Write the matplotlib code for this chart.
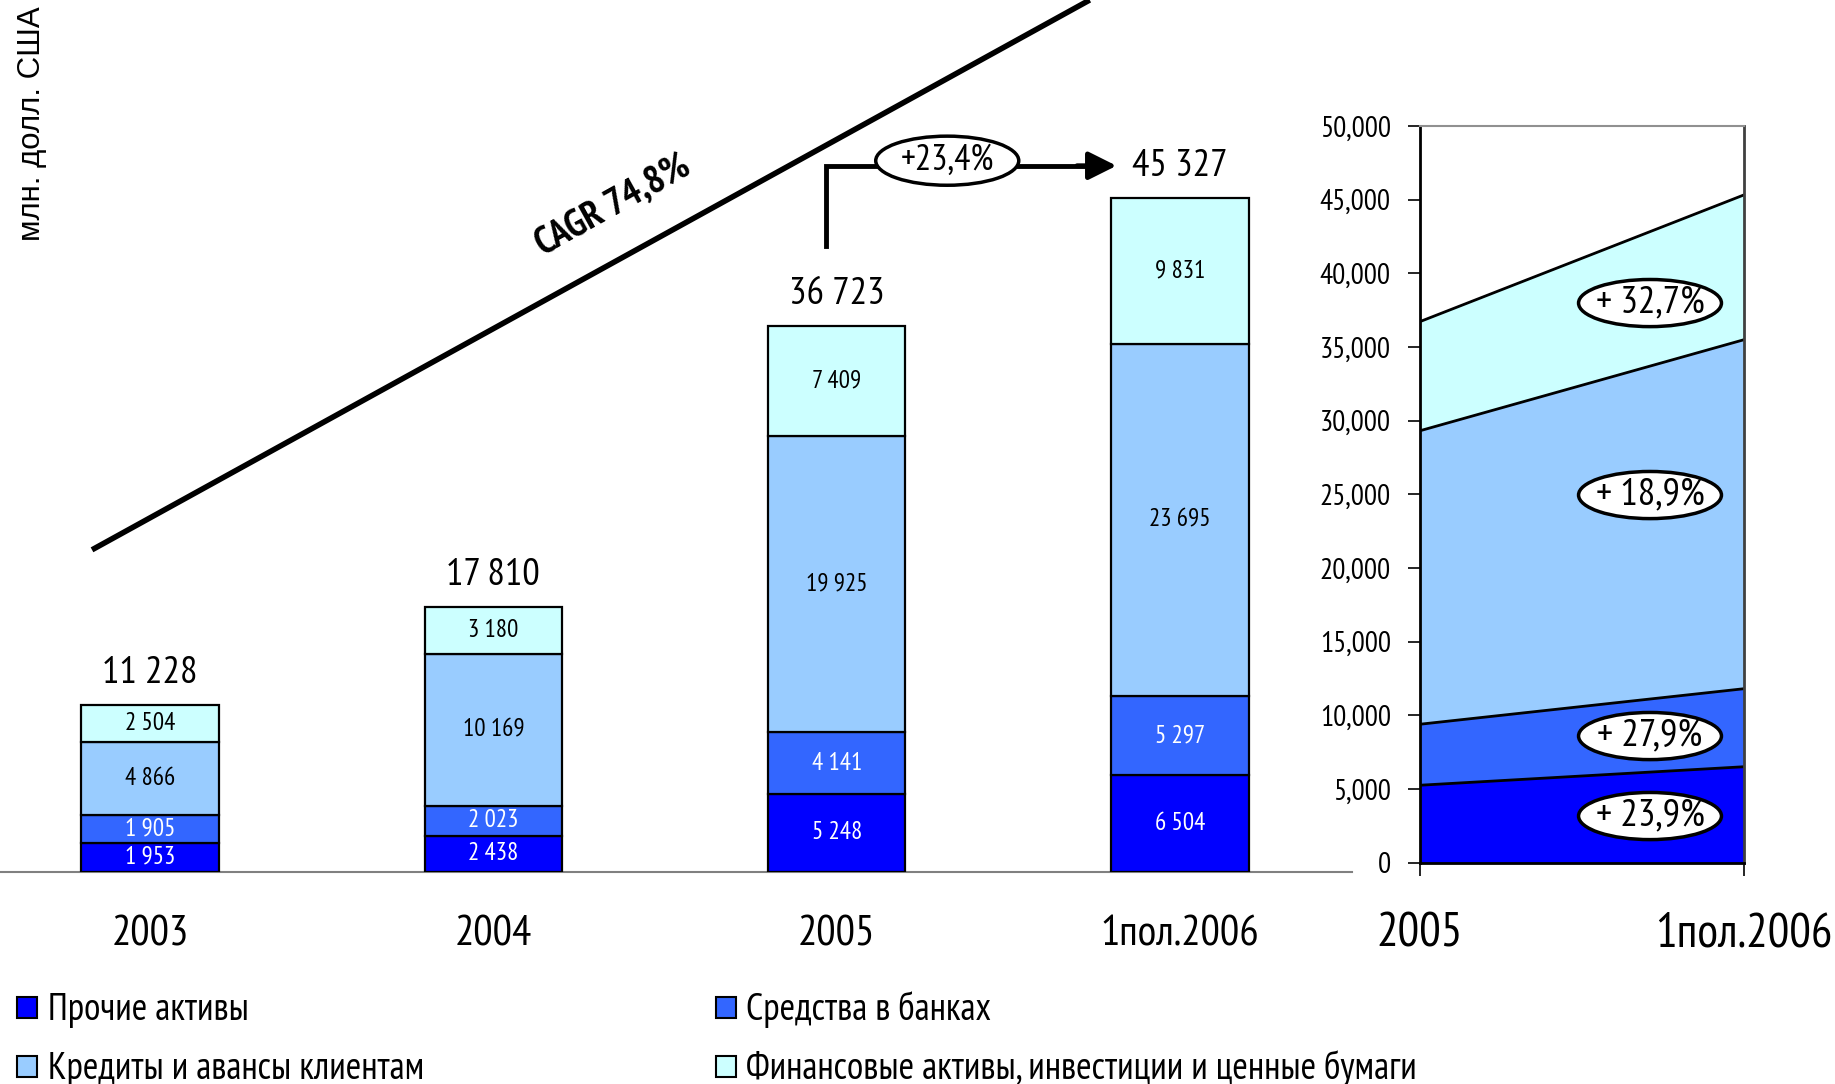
import numpy as np
import matplotlib
matplotlib.use('Agg')
import matplotlib.pyplot as plt
from matplotlib import font_manager
from matplotlib.patches import Ellipse

# narrow face similar to Arial Narrow, first one that is installed as a static file
def pick_family(cands):
    for name in cands:
        for f in font_manager.fontManager.ttflist:
            if f.name == name and f.style == 'normal' and '[' not in f.fname:
                return name
    return 'Liberation Sans'

NARROW = pick_family(['Arial Narrow', 'Liberation Sans Narrow', 'PT Sans Narrow',
                      'Roboto Condensed', 'Asap Condensed'])
plt.rcParams['font.family'] = [NARROW, 'Liberation Sans', 'DejaVu Sans']

############################################################################
#                    Data                                                  #
############################################################################
years = ['2003', '2004', '2005', '1пол.2006']
series_names = ['Прочие активы', 'Средства в банках',
                'Кредиты и авансы клиентам',
                'Финансовые активы, инвестиции и ценные бумаги']
other_assets = [1953, 2438, 5248, 6504]
bank_funds = [1905, 2023, 4141, 5297]
loans = [4866, 10169, 19925, 23695]
fin_assets = [2504, 3180, 7409, 9831]
totals = [11228, 17810, 36723, 45327]
area_years = ['2005', '1пол.2006']
growth_labels = ['+ 23,9%', '+ 27,9%', '+ 18,9%', '+ 32,7%']
cagr_text = 'CAGR 74,8%'
half_growth = '+23,4%'
colors = ['#0000FF', '#3366FF', '#99CCFF', '#CCFFFF']
txt_colors = ['white', 'white', 'black', 'black']

def fmt(v):
    return '{:,}'.format(v).replace(',', ' ')

fig = plt.figure(figsize=(18.35, 10.84), dpi=100)

# -------- main stacked bars --------
ax = fig.add_axes((0.0, 0.1956, 0.7368, 0.8044))
x = np.arange(len(years))
stack = [other_assets, bank_funds, loans, fin_assets]
bottom = np.zeros(len(years))
for vals, c, tc in zip(stack, colors, txt_colors):
    ax.bar(x, vals, 0.40, bottom=bottom, color=c, edgecolor='black', linewidth=1.6, zorder=3)
    for xi, b, v in zip(x, bottom, vals):
        ax.text(xi, b + v / 2, fmt(v), ha='center', va='center', fontsize=18, color=tc, zorder=4)
    bottom = bottom + np.array(vals)

for xi, t in zip(x, totals):
    ax.annotate(fmt(t), (xi, t), xytext=(0, 10), textcoords='offset points',
                ha='center', va='bottom', fontsize=28)

ax.set_xlim(-0.437, 3.501)
ax.set_ylim(0, 58600)
for s in ['top', 'right', 'left']:
    ax.spines[s].set_visible(False)
ax.spines['bottom'].set_color('#808080')
ax.spines['bottom'].set_linewidth(1.5)
ax.set_yticks([])
ax.set_xticks(x)
ax.set_xticklabels(years, fontsize=31)
ax.tick_params(axis='x', length=0, pad=31)

# CAGR trend line
ax.plot([-0.169, 2.737], [21650, 58600], color='black', lw=4, solid_capstyle='butt', clip_on=False)
ax.text(1.35, 44750, cagr_text, rotation=29, fontsize=27.5, fontweight='bold', style='italic',
        ha='center', va='center', rotation_mode='anchor')

# +23,4% connector
ax.plot([1.969, 1.969, 2.74], [42080, 47460, 47460], color='black', lw=3.5, solid_joinstyle='miter')
ax.annotate('', xy=(2.815, 47460), xytext=(2.70, 47460),
            arrowprops=dict(arrowstyle='-|>,head_length=1.7,head_width=0.85', color='black', lw=3.5,
                            shrinkA=0, shrinkB=0))
ax.add_patch(Ellipse((2.322, 47800), 0.4166, 3300, fc='white', ec='black', lw=2.5, zorder=5))
ax.text(2.322, 47800, half_growth, ha='center', va='center', fontsize=26, zorder=6)

fig.text(0.0175, 0.994, 'млн. долл. США', rotation=90, fontsize=22.5,
         family=['Liberation Sans', 'DejaVu Sans'], ha='center', va='top')

# -------- right area chart --------
ax2 = fig.add_axes((0.7738, 0.2043, 0.1766, 0.6794))
xa = [0, 1]
cum = np.zeros(2)
for s, c in zip(stack, colors):
    vals = np.array(s[2:])
    ax2.fill_between(xa, cum, cum + vals, color=c, lw=0)
    cum = cum + vals
    ax2.plot(xa, cum, color='black', lw=2)

ax2.set_xlim(0, 1)
ax2.set_ylim(0, 50000)
yt = np.arange(0, 50001, 5000)
ax2.set_yticks(yt)
ax2.set_yticklabels(['{:,}'.format(v) for v in yt], fontsize=21)
ax2.set_xticks(xa)
ax2.set_xticklabels(area_years, fontsize=34.5)
ax2.tick_params(axis='y', length=9, width=1.2, pad=12)
ax2.tick_params(axis='x', length=9, width=1.2, direction='out', pad=27)
ax2.spines['left'].set_linewidth(2)
ax2.spines['bottom'].set_linewidth(2)
ax2.spines['top'].set_color('#909090')
ax2.spines['top'].set_linewidth(1.5)
ax2.spines['right'].set_color('#404040')
ax2.spines['right'].set_linewidth(2)

label_y = [3157, 8588, 24950, 37984]
for lab, ly in zip(growth_labels, label_y):
    ax2.add_patch(Ellipse((0.71, ly), 0.441, 3200, fc='white', ec='black', lw=2.5, zorder=5))
    ax2.text(0.71, ly - 80, lab, ha='center', va='center', fontsize=28, zorder=6)

# -------- legend --------
leg_pos = [(0.0095, 0.061), (0.390, 0.061), (0.0095, 0.0065), (0.390, 0.0065)]
for (lx, ly), c, name in zip(leg_pos, colors, series_names):
    fig.patches.append(plt.Rectangle((lx, ly), 0.0109, 0.0194, transform=fig.transFigure,
                                     facecolor=c, edgecolor='black', lw=1.5, figure=fig))
    fig.text(lx + 0.0165, ly - 0.002, name, fontsize=27, va='baseline', ha='left')

fig.savefig('out.png', dpi=100)
